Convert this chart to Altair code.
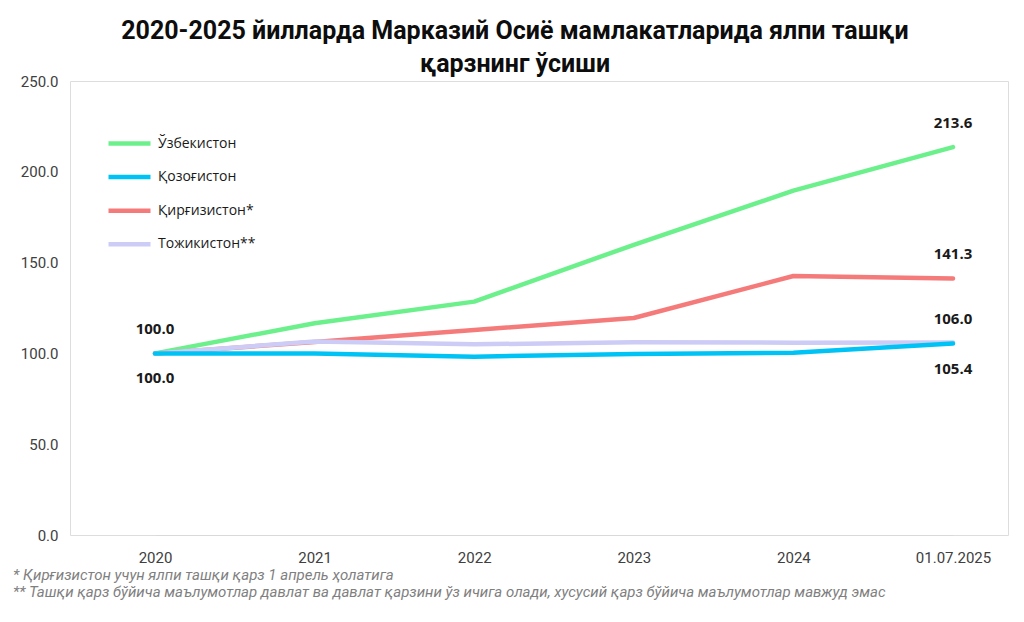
import altair as alt
import pandas as pd

years = ["2020", "2021", "2022", "2023", "2024", "01.07.2025"]
series_names = ["Ўзбекистон", "Қозоғистон", "Қирғизистон*", "Тожикистон**"]
uzbekistan = [100.0, 116.6, 128.5, 159.8, 189.6, 213.6]
kazakhstan = [100.0, 100.0, 98.2, 99.7, 100.4, 105.4]
kyrgyzstan = [100.0, 106.3, 112.9, 119.5, 142.6, 141.3]
tajikistan = [100.0, 106.5, 105.0, 106.1, 105.9, 106.0]
colors = ["#6CF08C", "#00C3F5", "#F57B7B", "#CCCCF7"]

# labelled points: (series, year, text, position)
label_series = ["Ўзбекистон", "Қозоғистон", "Ўзбекистон", "Қирғизистон*", "Тожикистон**", "Қозоғистон"]
label_years = ["2020", "2020", "01.07.2025", "01.07.2025", "01.07.2025", "01.07.2025"]
label_texts = ["100.0", "100.0", "213.6", "141.3", "106.0", "105.4"]
label_pos = ["above", "below", "above", "above", "above", "below"]

title_lines = ["2020-2025 йилларда Марказий Осиё мамлакатларида ялпи ташқи", "қарзнинг ўсиши"]
footnotes = [
    "* Қирғизистон учун ялпи ташқи қарз 1 апрель ҳолатига",
    "** Ташқи қарз бўйича маълумотлар давлат ва давлат қарзини ўз ичига олади, хусусий қарз бўйича   маълумотлар мавжуд эмас",
]

draw_order = ["Ўзбекистон", "Қирғизистон*", "Тожикистон**", "Қозоғистон"]
values = {
    "Ўзбекистон": uzbekistan,
    "Қозоғистон": kazakhstan,
    "Қирғизистон*": kyrgyzstan,
    "Тожикистон**": tajikistan,
}
rows = []
for k, name in enumerate(draw_order):
    for i, yr in enumerate(years):
        rows.append({"country": name, "year": yr, "value": values[name][i], "ord": k})
df = pd.DataFrame(rows)

lab_rows = []
for s, yr, t, p in zip(label_series, label_years, label_texts, label_pos):
    lab_rows.append({"country": s, "year": yr, "text": t, "pos": p,
                     "value": values[s][years.index(yr)]})
lab = pd.DataFrame(lab_rows)

W, H = 938, 454
FONT = "Roboto"

x_enc = alt.X("year:N", sort=years, scale=alt.Scale(type="point", range=[85, 883], padding=0),
              axis=alt.Axis(title=None, labelAngle=0, labelFontSize=15, labelColor="#404040",
                            labelFont=FONT, labelPadding=15, ticks=False,
                            domainColor="#D9D9D9", domainWidth=1.2, grid=False))
y_enc = alt.Y("value:Q", scale=alt.Scale(domain=[0, 250], nice=False),
              axis=alt.Axis(title=None, values=[0, 50, 100, 150, 200, 250], format=".1f",
                            labelFontSize=15, labelColor="#404040", labelFont=FONT,
                            labelPadding=12, ticks=False, domain=False, grid=False))

lines = alt.Chart(df).mark_line(strokeWidth=4.5, strokeCap="round", strokeJoin="round").encode(
    x=x_enc,
    y=y_enc,
    color=alt.Color("country:N", sort=series_names,
                    scale=alt.Scale(domain=series_names, range=colors),
                    legend=alt.Legend(title=None, orient="none", legendX=36, legendY=39,
                                      symbolType="stroke", symbolSize=1764, symbolStrokeWidth=4.5,
                                      labelFontSize=14, labelFont="Open Sans", labelColor="#1a1a1a",
                                      rowPadding=0.6, labelOffset=5)),
    order=alt.Order("ord:Q"),
    detail="country:N",
)

above = alt.Chart(lab).transform_filter(alt.datum.pos == "above").mark_text(
    dy=-24, fontSize=15, fontWeight="bold", font="Open Sans", color="#1a1a1a"
).encode(x=alt.X("year:N", sort=years), y="value:Q", text="text:N")

below = alt.Chart(lab).transform_filter(alt.datum.pos == "below").mark_text(
    dy=25, fontSize=15, fontWeight="bold", font="Open Sans", color="#1a1a1a"
).encode(x=alt.X("year:N", sort=years), y="value:Q", text="text:N")

note_layers = []
for i, txt in enumerate(footnotes):
    note_layers.append(
        alt.Chart(pd.DataFrame({"text": [txt]})).mark_text(
            align="left", baseline="middle", fontSize=15, fontStyle="italic",
            font=FONT, color="#7F7F7F"
        ).encode(x=alt.value(-57), y=alt.value(494 + 17 * i), text="text:N")
    )

chart = alt.layer(lines, above, below, *note_layers).properties(
    width=W, height=H,
    title=alt.TitleParams(title_lines, fontSize=25, font=FONT, fontWeight="bold",
                          color="#0d0d0d", lineHeight=33, offset=-3, anchor="middle", dx=-24),
).configure_view(stroke=None).configure(padding={"top": 11, "left": 5, "right": 5, "bottom": 5})

chart.save("out.html", embed_options={"renderer": "svg", "actions": False})
